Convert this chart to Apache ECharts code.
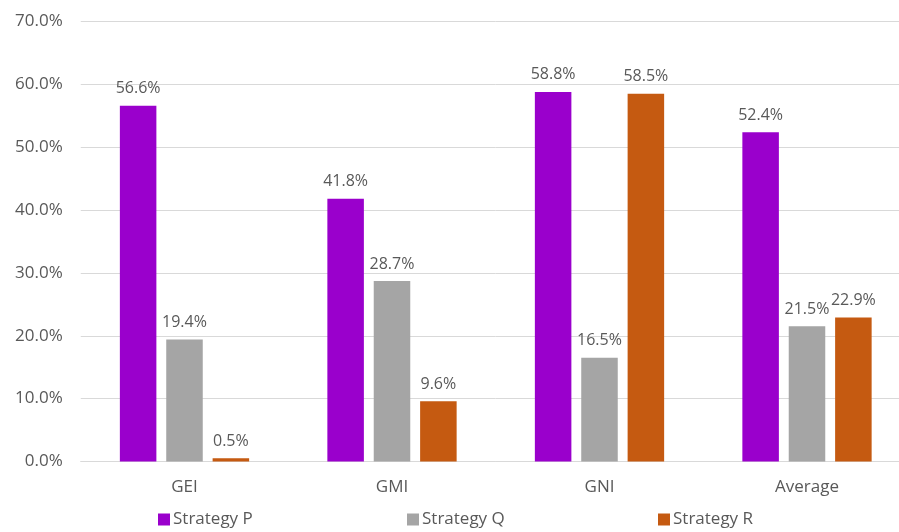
<!DOCTYPE html>
<html><head><meta charset="utf-8">
<script src="https://cdn.jsdelivr.net/npm/echarts@6/dist/echarts.min.js"></script>
<style>html,body{margin:0;padding:0;background:#fff;overflow:hidden;width:899px;height:532px}#c{width:912px;height:532px}</style>
</head><body><div id="c"></div>
<script>
const categories = ['GEI', 'GMI', 'GNI', 'Average'];
const seriesNames = ['Strategy P', 'Strategy Q', 'Strategy R'];
const strategyP = [56.6, 41.8, 58.8, 52.4];
const strategyQ = [19.4, 28.7, 16.5, 21.5];
const strategyR = [0.5, 9.6, 58.5, 22.9];
const yTicks = [0, 10, 20, 30, 40, 50, 60, 70];

const colors = ['#9A00CC', '#A5A5A5', '#C55A11'];
const font = '"Open Sans", sans-serif';
const values = [strategyP, strategyQ, strategyR];

const chart = echarts.init(document.getElementById('c'));
chart.setOption({
  animation: false,
  grid: { left: 80.75, width: 830, top: 21.5, height: 440, containLabel: false },
  xAxis: {
    type: 'category', data: categories,
    axisLine: { lineStyle: { color: '#D9D9D9', width: 1 } },
    axisTick: { show: false },
    axisLabel: { color: '#595959', fontFamily: font, fontSize: 17, margin: 17 }
  },
  yAxis: {
    type: 'value', min: yTicks[0], max: yTicks[yTicks.length - 1], interval: 10,
    axisLine: { show: false }, axisTick: { show: false },
    splitLine: { lineStyle: { color: '#D9D9D9', width: 1 } },
    axisLabel: { color: '#595959', fontFamily: font, fontSize: 17, margin: 18,
      formatter: v => v.toFixed(1) + '%' }
  },
  legend: seriesNames.map((n, i) => ({
    data: [n], top: 506, left: [153, 402, 653][i],
    itemWidth: 12, itemHeight: 12, itemGap: 5, icon: 'rect',
    textStyle: { color: '#595959', fontFamily: font, fontSize: 17, padding: [0, 0, 0, -2] }
  })),
  series: seriesNames.map((n, i) => ({
    name: n, type: 'bar', data: values[i],
    barWidth: '17.6%', barGap: '27%',
    itemStyle: { color: colors[i] },
    label: { show: true, position: 'top', distance: 9, color: '#595959',
      fontFamily: font, fontSize: 16, formatter: p => p.value.toFixed(1) + '%' }
  }))
});
</script></body></html>
